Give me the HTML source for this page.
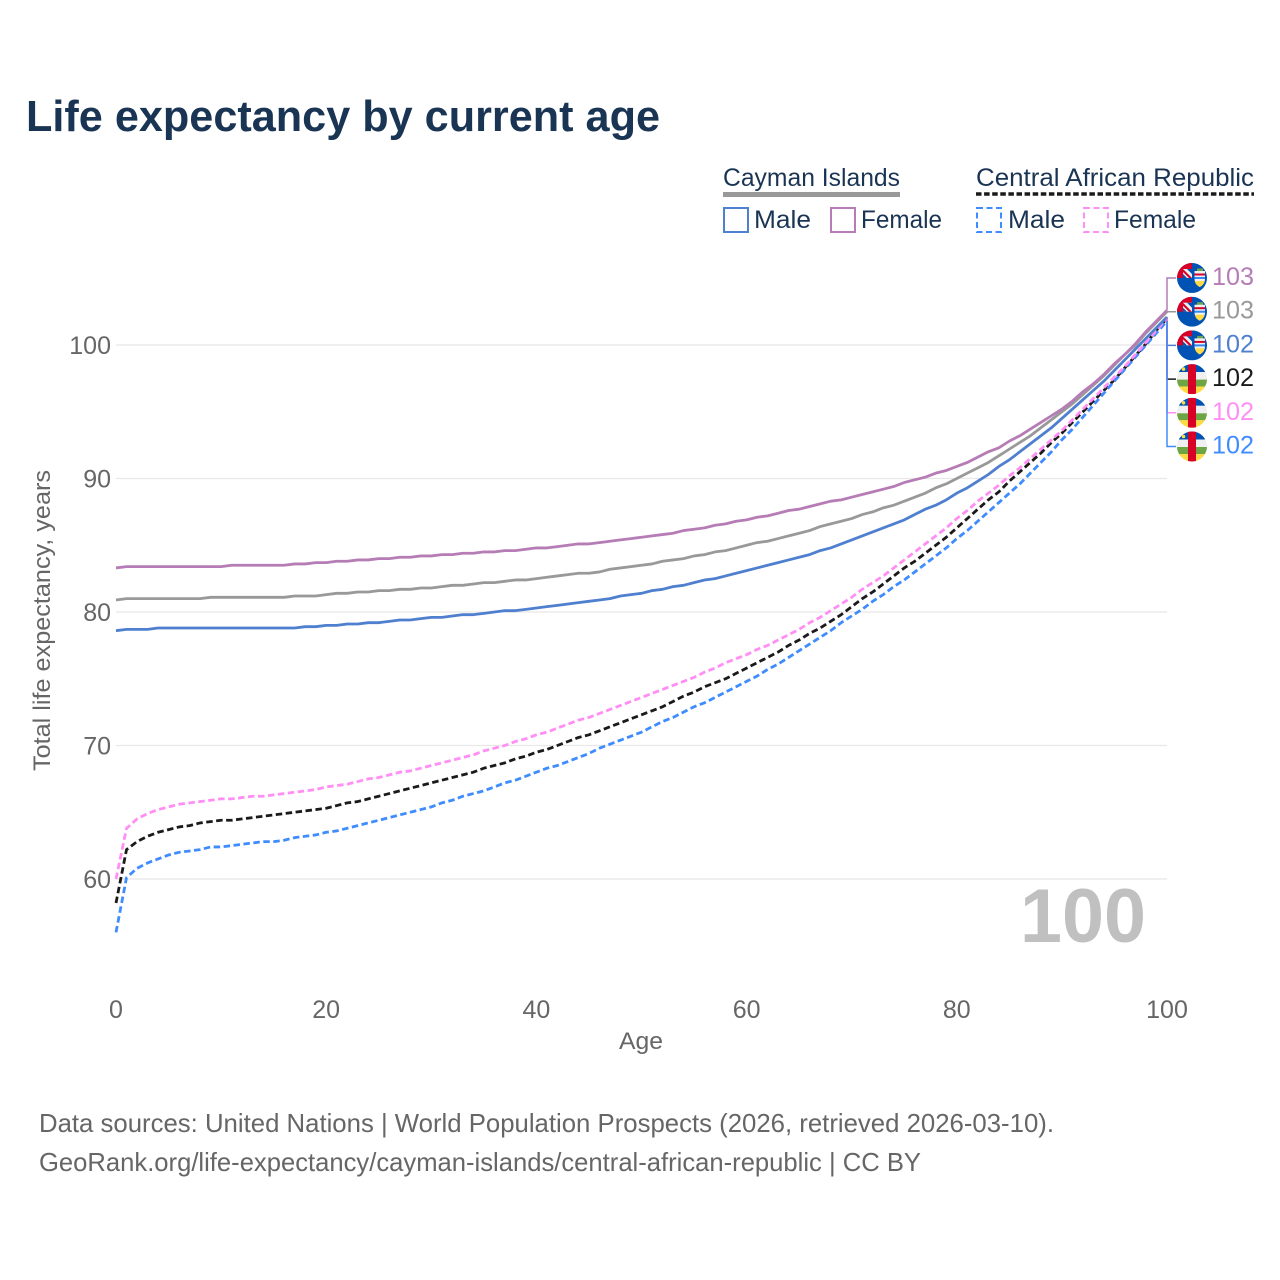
<!DOCTYPE html>
<html lang="en">
<head>
<meta charset="utf-8">
<title>Life expectancy by current age</title>
<style>
html,body{margin:0;padding:0;background:#fff;width:1280px;height:1280px;overflow:hidden}
svg{display:block}
text{font-family:"Liberation Sans",sans-serif}
</style>
</head>
<body>
<svg id="chart" xmlns="http://www.w3.org/2000/svg" width="1280" height="1280" viewBox="0 0 1280 1280">
  <defs>
    <clipPath id="flag-clip"><circle cx="0" cy="0" r="15"/></clipPath>
    <g id="flag-cayman" clip-path="url(#flag-clip)">
      <rect x="-15" y="-15" width="30" height="30" fill="#0052b4"/>
      <rect x="-15" y="-15" width="15" height="15" fill="#d80027"/>
      <rect x="-9" y="-9" width="9" height="9" fill="#f0f0f0"/>
      <path d="M-9 -9L0 0H-3L-9 -6Z" fill="#d80027"/>
      <path d="M-5 -9H0V-4Z" fill="#0052b4"/>
      <path d="M-9 -4V0H-5Z" fill="#0052b4"/>
      <rect x="5" y="-9.5" width="6" height="3" fill="#6da544"/>
      <path d="M2.5 -7H13V1Q13 6 7.75 9Q2.5 6 2.5 1Z" fill="#f0f0f0"/>
      <rect x="2.5" y="-4.5" width="10.5" height="2" fill="#d80027"/>
      <rect x="2.5" y="-1" width="10.5" height="2" fill="#338af3"/>
      <path d="M3 3H12.5Q12 7 7.75 9Q3.5 7 3 3Z" fill="#ffda44"/>
    </g>
    <g id="flag-car" clip-path="url(#flag-clip)">
      <rect x="-15" y="-15" width="30" height="8" fill="#0052b4"/>
      <rect x="-15" y="-7" width="30" height="7.5" fill="#f0f0f0"/>
      <rect x="-15" y="0.5" width="30" height="7" fill="#6da544"/>
      <rect x="-15" y="7.5" width="30" height="7.5" fill="#ffda44"/>
      <rect x="-4" y="-15" width="8" height="30" fill="#d80027"/>
      <circle cx="-8.5" cy="-10" r="1.8" fill="#ffda44"/>
    </g>
  </defs>

  <rect x="0" y="0" width="1280" height="1280" fill="#fff"/>

  <text x="26" y="131" font-size="44" font-weight="700" fill="#1a3454" textLength="634" lengthAdjust="spacingAndGlyphs">Life expectancy by current age</text>

  <g>
    <text x="723" y="186" font-size="25" fill="#1a3454" textLength="177" lengthAdjust="spacingAndGlyphs">Cayman Islands</text>
    <rect x="723" y="192" width="177" height="5" fill="#999"/>
    <text x="976" y="186" font-size="25" fill="#1a3454" textLength="278" lengthAdjust="spacingAndGlyphs">Central African Republic</text>
    <line x1="976" y1="194" x2="1254" y2="194" stroke="#1a1a1a" stroke-width="3.5" stroke-dasharray="5.5 2.6"/>

    <rect x="724" y="208" width="24" height="24" fill="none" stroke="#4f7fcf" stroke-width="2"/>
    <text x="754" y="228" font-size="25" fill="#1a3454" textLength="57" lengthAdjust="spacingAndGlyphs">Male</text>
    <rect x="831" y="208" width="24" height="24" fill="none" stroke="#b67cb5" stroke-width="2"/>
    <text x="861" y="228" font-size="25" fill="#1a3454" textLength="81" lengthAdjust="spacingAndGlyphs">Female</text>
    <rect x="977" y="208" width="24" height="24" fill="none" stroke="#3f8cff" stroke-width="2" stroke-dasharray="6 3.5"/>
    <text x="1008" y="228" font-size="25" fill="#1a3454" textLength="57" lengthAdjust="spacingAndGlyphs">Male</text>
    <rect x="1084" y="208" width="24" height="24" fill="none" stroke="#ff8ef5" stroke-width="2" stroke-dasharray="6 3.5"/>
    <text x="1114" y="228" font-size="25" fill="#1a3454" textLength="82" lengthAdjust="spacingAndGlyphs">Female</text>
  </g>

  <g id="grid"></g>
  <g id="y-ticks"></g>
  <g id="x-ticks"></g>
  <g id="series"></g>
  <g id="connectors"></g>
  <g id="end-labels"></g>

  <text transform="translate(50 771) rotate(-90)" x="0" y="0" font-size="24" fill="#666" textLength="301" lengthAdjust="spacingAndGlyphs">Total life expectancy, years</text>
  <text x="641" y="1049" font-size="24" fill="#666" text-anchor="middle" textLength="44" lengthAdjust="spacingAndGlyphs">Age</text>

  <text x="1020" y="942" font-size="76" font-weight="700" fill="#c0c0c0" textLength="126" lengthAdjust="spacingAndGlyphs">100</text>

  <text x="39" y="1132" font-size="26" fill="#666" textLength="1015" lengthAdjust="spacingAndGlyphs">Data sources: United Nations | World Population Prospects (2026, retrieved 2026-03-10).</text>
  <text x="39" y="1171" font-size="26" fill="#666" textLength="882" lengthAdjust="spacingAndGlyphs">GeoRank.org/life-expectancy/cayman-islands/central-african-republic | CC BY</text>
</svg>

<script>
const xTickLabels = [0, 20, 40, 60, 80, 100];
const yTickLabels = [60, 70, 80, 90, 100];

const caymanFemale = [
  83.3,83.4,83.4,83.4,83.4,83.4,83.4,83.4,83.4,83.4,
  83.4,83.5,83.5,83.5,83.5,83.5,83.5,83.6,83.6,83.7,
  83.7,83.8,83.8,83.9,83.9,84.0,84.0,84.1,84.1,84.2,
  84.2,84.3,84.3,84.4,84.4,84.5,84.5,84.6,84.6,84.7,
  84.8,84.8,84.9,85.0,85.1,85.1,85.2,85.3,85.4,85.5,
  85.6,85.7,85.8,85.9,86.1,86.2,86.3,86.5,86.6,86.8,
  86.9,87.1,87.2,87.4,87.6,87.7,87.9,88.1,88.3,88.4,
  88.6,88.8,89.0,89.2,89.4,89.7,89.9,90.1,90.4,90.6,
  90.9,91.2,91.6,92.0,92.3,92.8,93.2,93.7,94.2,94.7,
  95.2,95.8,96.5,97.1,97.8,98.6,99.3,100.1,101.0,101.8,
  102.6
];
const caymanBoth = [
  80.9,81.0,81.0,81.0,81.0,81.0,81.0,81.0,81.0,81.1,
  81.1,81.1,81.1,81.1,81.1,81.1,81.1,81.2,81.2,81.2,
  81.3,81.4,81.4,81.5,81.5,81.6,81.6,81.7,81.7,81.8,
  81.8,81.9,82.0,82.0,82.1,82.2,82.2,82.3,82.4,82.4,
  82.5,82.6,82.7,82.8,82.9,82.9,83.0,83.2,83.3,83.4,
  83.5,83.6,83.8,83.9,84.0,84.2,84.3,84.5,84.6,84.8,
  85.0,85.2,85.3,85.5,85.7,85.9,86.1,86.4,86.6,86.8,
  87.0,87.3,87.5,87.8,88.0,88.3,88.6,88.9,89.3,89.6,
  90.0,90.4,90.8,91.2,91.7,92.2,92.7,93.2,93.8,94.4,
  95.0,95.6,96.3,97.0,97.7,98.5,99.3,100.0,100.9,101.7,
  102.5
];
const caymanMale = [
  78.6,78.7,78.7,78.7,78.8,78.8,78.8,78.8,78.8,78.8,
  78.8,78.8,78.8,78.8,78.8,78.8,78.8,78.8,78.9,78.9,
  79.0,79.0,79.1,79.1,79.2,79.2,79.3,79.4,79.4,79.5,
  79.6,79.6,79.7,79.8,79.8,79.9,80.0,80.1,80.1,80.2,
  80.3,80.4,80.5,80.6,80.7,80.8,80.9,81.0,81.2,81.3,
  81.4,81.6,81.7,81.9,82.0,82.2,82.4,82.5,82.7,82.9,
  83.1,83.3,83.5,83.7,83.9,84.1,84.3,84.6,84.8,85.1,
  85.4,85.7,86.0,86.3,86.6,86.9,87.3,87.7,88.0,88.4,
  88.9,89.3,89.8,90.3,90.9,91.4,92.0,92.6,93.2,93.8,
  94.5,95.2,95.9,96.6,97.3,98.1,98.9,99.7,100.5,101.3,
  102.1
];
const carBoth = [
  58.2,62.2,62.8,63.2,63.5,63.7,63.9,64.0,64.2,64.3,
  64.4,64.4,64.5,64.6,64.7,64.8,64.9,65.0,65.1,65.2,
  65.3,65.5,65.7,65.8,66.0,66.2,66.4,66.6,66.8,67.0,
  67.2,67.4,67.6,67.8,68.0,68.3,68.5,68.7,69.0,69.2,
  69.5,69.7,70.0,70.3,70.6,70.8,71.1,71.4,71.7,72.0,
  72.3,72.6,72.9,73.3,73.7,74.0,74.4,74.7,75.0,75.4,
  75.8,76.2,76.6,77.0,77.5,77.9,78.4,78.8,79.3,79.8,
  80.4,81.0,81.5,82.1,82.7,83.3,83.8,84.4,85.0,85.6,
  86.3,87.0,87.7,88.4,89.0,89.8,90.5,91.2,91.9,92.7,
  93.4,94.2,95.0,95.8,96.6,97.4,98.3,99.2,100.1,101.1,
  102.0
];
const carFemale = [
  60.0,63.8,64.5,64.9,65.2,65.4,65.6,65.7,65.8,65.9,
  66.0,66.0,66.1,66.2,66.2,66.3,66.4,66.5,66.6,66.7,
  66.9,67.0,67.1,67.3,67.5,67.6,67.8,68.0,68.1,68.3,
  68.5,68.7,68.9,69.1,69.3,69.6,69.8,70.0,70.3,70.5,
  70.8,71.0,71.3,71.6,71.9,72.1,72.4,72.7,73.0,73.3,
  73.6,73.9,74.2,74.5,74.8,75.1,75.5,75.8,76.2,76.5,
  76.8,77.2,77.5,77.9,78.3,78.7,79.2,79.6,80.1,80.6,
  81.1,81.7,82.2,82.7,83.3,83.9,84.5,85.1,85.7,86.3,
  87.0,87.6,88.3,88.9,89.5,90.2,90.8,91.5,92.2,92.9,
  93.6,94.4,95.2,96.0,96.8,97.6,98.4,99.3,100.2,101.1,
  102.0
];
const carMale = [
  56.0,60.1,60.8,61.2,61.5,61.8,62.0,62.1,62.2,62.4,
  62.4,62.5,62.6,62.7,62.8,62.8,62.9,63.1,63.2,63.3,
  63.5,63.6,63.8,64.0,64.2,64.4,64.6,64.8,65.0,65.2,
  65.4,65.7,65.9,66.2,66.4,66.6,66.9,67.2,67.4,67.7,
  68.0,68.3,68.5,68.8,69.1,69.4,69.8,70.1,70.4,70.7,
  71.0,71.4,71.8,72.1,72.5,72.9,73.2,73.6,74.0,74.4,
  74.8,75.2,75.7,76.1,76.6,77.1,77.6,78.1,78.6,79.2,
  79.7,80.2,80.8,81.3,81.9,82.4,83.0,83.6,84.2,84.8,
  85.5,86.1,86.8,87.5,88.2,88.9,89.6,90.4,91.2,92.0,
  92.9,93.7,94.6,95.5,96.4,97.3,98.2,99.1,100.0,100.9,
  101.8
];

const seriesNames = ['car-both', 'car-male', 'car-female', 'cayman-both', 'cayman-male', 'cayman-female'];
const seriesValues = [carBoth, carMale, carFemale, caymanBoth, caymanMale, caymanFemale];
const seriesColors = ['#1a1a1a', '#3f8cff', '#ff8ef5', '#999999', '#4f7fcf', '#b67cb5'];
const seriesDashed = [true, true, true, false, false, false];

const endLabelSeries = ['cayman-female', 'cayman-both', 'cayman-male', 'car-both', 'car-female', 'car-male'];
const endLabelText = ['103', '103', '102', '102', '102', '102'];
const endLabelFlags = ['flag-cayman', 'flag-cayman', 'flag-cayman', 'flag-car', 'flag-car', 'flag-car'];

const SVGNS = 'http://www.w3.org/2000/svg';
const plotLeft = 116, plotRight = 1167, y60 = 879, y100 = 345;
const xMax = 100;
function xScale(age) { return plotLeft + (age / xMax) * (plotRight - plotLeft); }
function yScale(v) { return y60 + (v - 60) * (y100 - y60) / 40; }
function make(tag, attrs) {
  const el = document.createElementNS(SVGNS, tag);
  Object.keys(attrs).forEach(function (k) { el.setAttribute(k, attrs[k]); });
  return el;
}

const gridG = document.getElementById('grid');
const yTickG = document.getElementById('y-ticks');
yTickLabels.forEach(function (t) {
  const line = make('line', { x1: plotLeft, x2: plotRight, y1: yScale(t), y2: yScale(t), stroke: '#e8e8e8', 'stroke-width': 1.2 });
  
  
  gridG.appendChild(line);
  const label = make('text', { x: 111, y: yScale(t) + 9, 'text-anchor': 'end', 'font-size': 25, fill: '#666' });
  
  
  label.textContent = t;
  yTickG.appendChild(label);
});

const xTickG = document.getElementById('x-ticks');
xTickLabels.forEach(function (t) {
  const label = make('text', { x: xScale(t), y: 1018, 'text-anchor': 'middle', 'font-size': 25, fill: '#666' });
  
  
  label.textContent = t;
  xTickG.appendChild(label);
});

const seriesG = document.getElementById('series');
seriesValues.forEach(function (values, s) {
  const pts = values.map(function (v, age) { return xScale(age).toFixed(2) + ',' + yScale(v).toFixed(2); }).join(' ');
  const line = make('polyline', { points: pts, fill: 'none', stroke: seriesColors[s], 'stroke-width': 2.8, 'stroke-linejoin': 'round' });
  if (seriesDashed[s]) { line.setAttribute('stroke-dasharray', '6.5 3.5'); }
  
  
  seriesG.appendChild(line);
});

const connG = document.getElementById('connectors');
const labG = document.getElementById('end-labels');
endLabelSeries.forEach(function (name, i) {
  const s = seriesNames.indexOf(name);
  const values = seriesValues[s];
  const endY = yScale(values[values.length - 1]);
  const rowY = 278 + i * 33.7;
  const conn = make('polyline', {
    points: plotRight + ',' + endY.toFixed(2) + ' ' + plotRight + ',' + rowY.toFixed(2) + ' 1176,' + rowY.toFixed(2),
    fill: 'none', stroke: seriesColors[s], 'stroke-width': 1.5
  });
  
  
  connG.appendChild(conn);

  const flag = make('use', { href: '#' + endLabelFlags[i], x: 1192, y: rowY });
  
  
  labG.appendChild(flag);

  const label = make('text', { x: 1212, y: rowY + 7, 'font-size': 25, fill: seriesColors[s], textLength: 42, lengthAdjust: 'spacingAndGlyphs' });
  
  
  label.textContent = endLabelText[i];
  labG.appendChild(label);
});
</script>
</body>
</html>
